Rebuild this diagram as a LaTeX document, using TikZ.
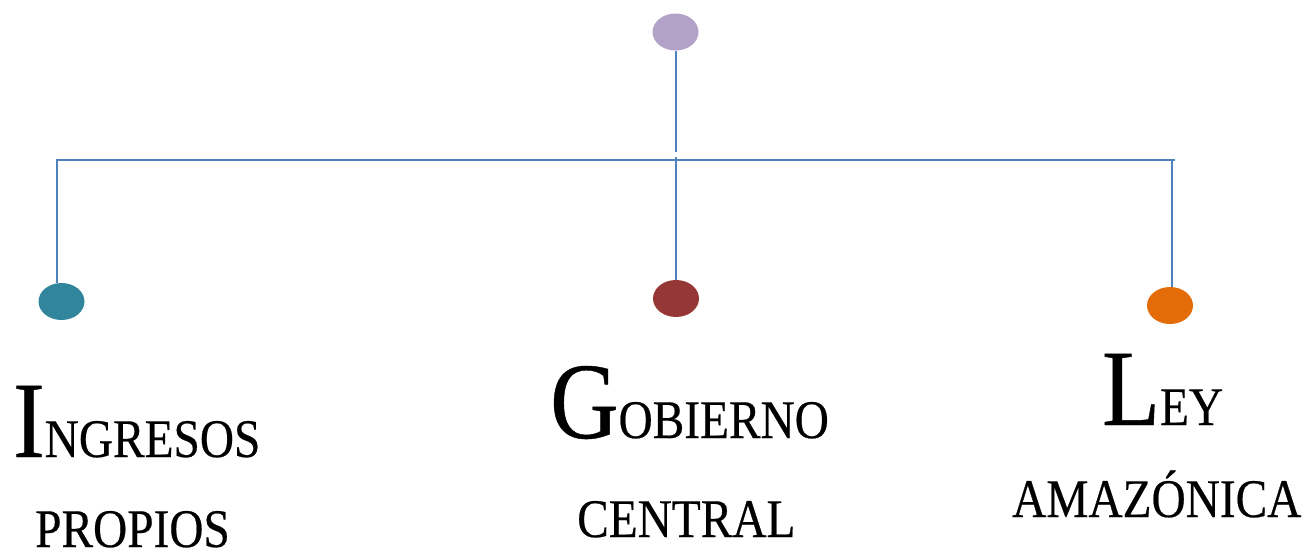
\documentclass[tikz,border=0pt]{standalone}
\usepackage{fontspec}
\setmainfont[FakeStretch=0.87,FakeBold=0.4]{Liberation Serif}
\usetikzlibrary{shapes.geometric}
\definecolor{linkblue}{HTML}{4F81BD}
\definecolor{dotlav}{HTML}{B3A2C7}
\definecolor{dotteal}{HTML}{31859C}
\definecolor{dotred}{HTML}{953735}
\definecolor{dotorange}{HTML}{E36C09}
\newcommand{\capbig}[1]{{\fontsize{108.8}{110}\selectfont #1}}
\newcommand{\capsmall}[1]{{\fontsize{54.4}{60}\selectfont #1}}
\begin{document}
\begin{tikzpicture}[x=1pt,y=-1pt,
  dot/.style={ellipse,draw=none,inner sep=0pt,minimum width=46pt,minimum height=37pt},
  link/.style={draw=linkblue,line width=2.6pt},
  label/.style={inner sep=0pt,anchor=base west,text=black,text depth=0pt}]
\useasboundingbox (0,0) rectangle (1303,552);
% dots
\node[dot,fill=dotlav] (top) at (675.5,32) {};
\node[dot,fill=dotteal] (left) at (61.5,301.5) {};
\node[dot,fill=dotred] (mid) at (676,298.5) {};
\node[dot,fill=dotorange] (right) at (1170,305.5) {};
% junctions
\coordinate (jt) at (676,152);
\coordinate (hl) at (56,160);
\coordinate (hr) at (1175,160);
\coordinate (jl) at (57,160);
\coordinate (jm) at (676,157);
\coordinate (jr) at (1172,160);
% connectors
\draw[link] (top.south -| jt) -- (jt);
\draw[link] (hl) -- (hr);
\draw[link] (jl) -- (jl |- left.north);
\draw[link] (jm) -- (jm |- mid.north);
\draw[link] (jr) -- (jr |- right.north);
% labels
\node[label] (ing) at (13,457) {\capbig{I}\capsmall{NGRESOS}};
\node[label] (pro) at (35,547) {\capsmall{PROPIOS}};
\node[label] (gob) at (550,438) {\capbig{G}\capsmall{OBIERNO}};
\node[label] (cen) at (577,537) {\capsmall{CENTRAL}};
\node[label] (ley) at (1102,425) {\capbig{L}\capsmall{EY}};
\node[label] (ama) at (1012,517) {\capsmall{AMAZÓNICA}};
\end{tikzpicture}
\end{document}
